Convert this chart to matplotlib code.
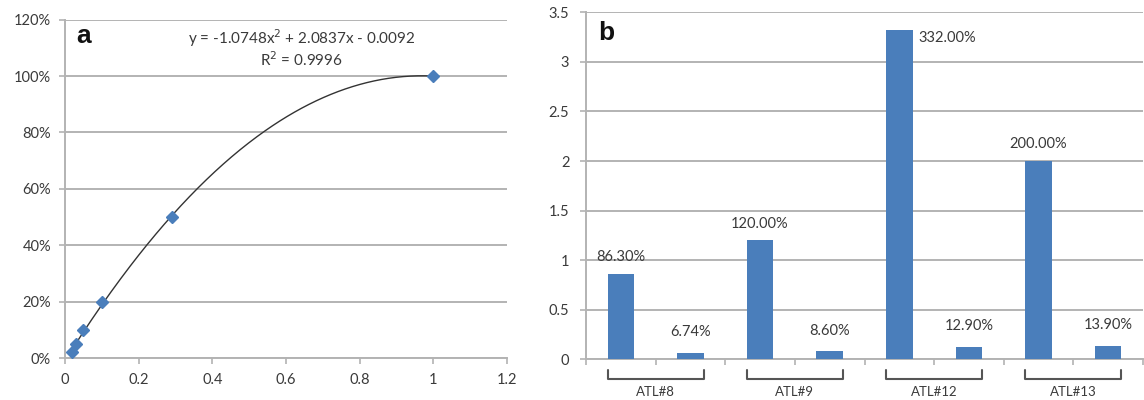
import numpy as np
import matplotlib
matplotlib.use("Agg")
import matplotlib.pyplot as plt
import matplotlib.transforms as mtransforms

plt.rcParams['font.family'] = ['Lato', 'DejaVu Sans']

# ---- data panel a ----
conc = [0.02, 0.03, 0.05, 0.10, 0.29, 1.0]
response = [0.02, 0.05, 0.10, 0.20, 0.50, 1.0]
fit_coef = [-1.0748, 2.0837, -0.0092]
eq_text = "y = -1.0748x$^2$ + 2.0837x - 0.0092"
r2_text = "R$^2$ = 0.9996"
xticks_a = [0, 0.2, 0.4, 0.6, 0.8, 1, 1.2]
xticklabels_a = ["0", "0.2", "0.4", "0.6", "0.8", "1", "1.2"]
yticks_a = [0, 0.2, 0.4, 0.6, 0.8, 1.0, 1.2]
yticklabels_a = ["0%", "20%", "40%", "60%", "80%", "100%", "120%"]

# ---- data panel b ----
bar_values = [0.863, 0.0674, 1.20, 0.086, 3.32, 0.129, 2.00, 0.139]
bar_labels = ["86.30%", "6.74%", "120.00%", "8.60%", "332.00%", "12.90%", "200.00%", "13.90%"]
groups = ["ATL#8", "ATL#9", "ATL#12", "ATL#13"]
yticks_b = [0, 0.5, 1, 1.5, 2, 2.5, 3, 3.5]
yticklabels_b = ["0", "0.5", "1", "1.5", "2", "2.5", "3", "3.5"]

blue = "#4A7EBB"
grid_c = "#B3B3B3"
text_c = "#3A3A3A"

fig = plt.figure(figsize=(11.44, 4.0), dpi=100)

# ---------- panel a ----------
axa = fig.add_axes([65/1144, 42/400, 442/1144, 338.4/400])
axa.set_xlim(0, 1.2)
axa.set_ylim(0, 1.2)
axa.set_yticks(yticks_a)
axa.set_yticklabels(yticklabels_a)
axa.set_xticks(xticks_a)
axa.set_xticklabels(xticklabels_a)
axa.yaxis.grid(True, color=grid_c, linewidth=1.4)
axa.set_axisbelow(True)
for s in ['top', 'right']:
    axa.spines[s].set_visible(False)
for s in ['left', 'bottom']:
    axa.spines[s].set_color(grid_c)
    axa.spines[s].set_linewidth(1.4)
axa.tick_params(axis='both', colors=grid_c, labelcolor=text_c, labelsize=10.5,
                length=4, width=1.2, direction='out')
axa.tick_params(axis='x', pad=7)
axa.tick_params(axis='y', pad=6)

xx = np.linspace(min(conc), max(conc), 300)
axa.plot(xx, np.polyval(fit_coef, xx), color="#333333", linewidth=1.0, zorder=3)
axa.plot(conc, response, linestyle='none', marker='D', markersize=6,
         color=blue, markeredgecolor=blue, zorder=4)
axa.text(0.025, 0.952, "a", transform=axa.transAxes, fontsize=19,
         fontweight='bold', va='center', ha='left', color='#111111', family='Liberation Sans')
axa.text(0.535, 0.945, eq_text, transform=axa.transAxes, fontsize=11,
         ha='center', va='center', color=text_c)
axa.text(0.535, 0.882, r2_text, transform=axa.transAxes, fontsize=11,
         ha='center', va='center', color=text_c)

# ---------- panel b ----------
axb = fig.add_axes([586/1144, 40.7/400, 557/1144, 347/400])
x = np.arange(len(bar_values))
width = 0.38
axb.bar(x, bar_values, width=width, color=blue, zorder=3)
axb.set_xlim(-0.5, len(bar_values) - 0.5)
axb.set_ylim(0, 3.5)
axb.set_yticks(yticks_b)
axb.set_yticklabels(yticklabels_b)
axb.set_xticks(np.arange(-0.5, len(bar_values) + 0.5, 1.0))
axb.set_xticklabels([])
axb.yaxis.grid(True, color=grid_c, linewidth=1.4)
axb.set_axisbelow(True)
for s in ['top', 'right']:
    axb.spines[s].set_visible(False)
for s in ['left', 'bottom']:
    axb.spines[s].set_color(grid_c)
    axb.spines[s].set_linewidth(1.4)
axb.tick_params(axis='both', colors=grid_c, labelcolor=text_c, labelsize=10.5,
                length=4, width=1.2, direction='out')
axb.tick_params(axis='y', pad=8)

tallest = int(np.argmax(bar_values))
for i, (v, lab) in enumerate(zip(bar_values, bar_labels)):
    if i == tallest:
        axb.annotate(lab, (i + width / 2, v), xytext=(4, -6), textcoords='offset points',
                     ha='left', va='center', fontsize=10.5, color=text_c)
    else:
        off = 12 if v > 0.5 else 14.5
        axb.annotate(lab, (i, v), xytext=(0, off), textcoords='offset points',
                     ha='center', va='center', fontsize=10.5, color=text_c)

trans = mtransforms.blended_transform_factory(axb.transData, axb.transAxes)
for g, name in enumerate(groups):
    left = 2 * g - width / 2
    right = 2 * g + 1 + width / 2
    axb.plot([left, left, right, right], [-0.031, -0.057, -0.057, -0.031],
             transform=trans, clip_on=False, color="#555555", linewidth=1.5,
             solid_joinstyle='round', solid_capstyle='round')
    axb.text((left + right) / 2, -0.094, name, transform=trans, ha='center',
             va='center', fontsize=9.5, color=text_c)
axb.text(0.022, 0.94, "b", transform=axb.transAxes, fontsize=19,
         fontweight='bold', va='center', ha='left', color='#111111', family='Liberation Sans')

fig.savefig("out.png", dpi=100)
